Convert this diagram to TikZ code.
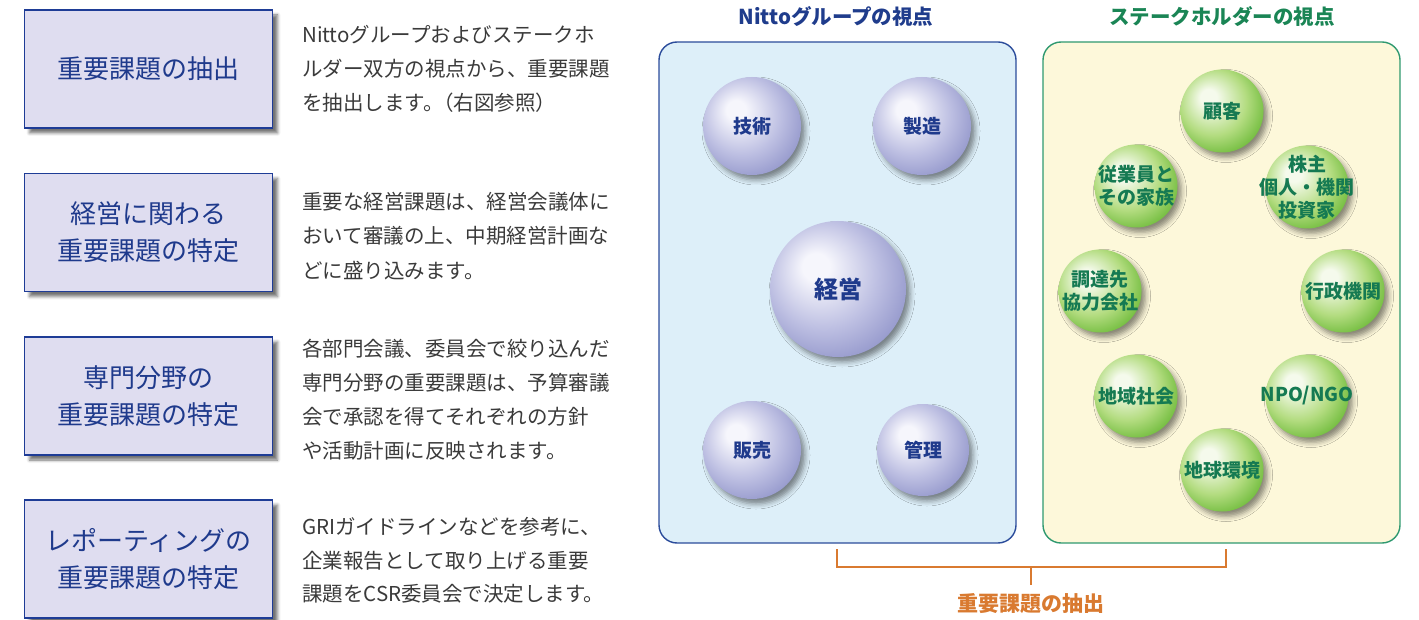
\documentclass[tikz,border=0pt]{standalone}
\usepackage{fontspec}
\setmainfont{Noto Sans CJK JP}
\usetikzlibrary{shadows.blur}
\definecolor{boxfill}{HTML}{DFDDF0}
\definecolor{boxborder}{HTML}{1E3C96}
\definecolor{boxtext}{HTML}{1F3A8C}
\definecolor{desctext}{HTML}{3A3A3A}
\definecolor{bpfill}{HTML}{DDEFF9}
\definecolor{bpborder}{HTML}{2B4C9B}
\definecolor{gpfill}{HTML}{FDF8DA}
\definecolor{gpborder}{HTML}{2F9970}
\definecolor{btitle}{HTML}{1F3C8C}
\definecolor{gtitle}{HTML}{1A8555}
\definecolor{gtext}{HTML}{157A52}
\definecolor{orangec}{HTML}{D97A30}
\definecolor{bsHi}{HTML}{F6F6FC}
\definecolor{bsMid}{HTML}{BDBFE2}
\definecolor{bsDark}{HTML}{8A8EC6}
\definecolor{gsHi}{HTML}{F5FAEC}
\definecolor{gsMid}{HTML}{B3DC80}
\definecolor{gsDark}{HTML}{5EB32A}
\pgfdeclareradialshading{bsph}{\pgfpoint{-9bp}{9bp}}{color(0bp)=(bsHi); color(5bp)=(bsHi); color(20bp)=(bsMid); color(34bp)=(bsDark); color(50bp)=(bsDark)}
\pgfdeclareradialshading{gsph}{\pgfpoint{-9bp}{9bp}}{color(0bp)=(gsHi); color(5bp)=(gsHi); color(20bp)=(gsMid); color(34bp)=(gsDark); color(50bp)=(gsDark)}
\begin{document}
\begin{tikzpicture}[x=1pt,y=-1pt,
  lbox/.style={draw=boxborder, line width=1.8pt, fill=boxfill, minimum width=248pt, minimum height=118pt, inner sep=0pt, align=center, font=\fontsize{26}{37}\selectfont, text=boxtext,
    blur shadow={shadow xshift=5pt, shadow yshift=-5pt, shadow blur radius=3pt, shadow opacity=55}},
  desc/.style={anchor=base west, inner sep=0pt, font=\fontsize{20.5}{34}\selectfont, text=desctext},
  bpanel/.style={draw=bpborder, line width=1.4pt, fill=bpfill, rounded corners=18pt, minimum width=357pt, minimum height=501pt, inner sep=0pt},
  gpanel/.style={draw=gpborder, line width=1.4pt, fill=gpfill, rounded corners=18pt, minimum width=357pt, minimum height=501pt, inner sep=0pt},
  ptitle/.style={font=\fontsize{20.5}{24}\selectfont\bfseries, inner sep=0pt},
  bsphere/.style={circle, shading=bsph, inner sep=0pt, text=boxtext, font=\fontsize{19}{23}\selectfont\bfseries, align=center,
    blur shadow={shadow xshift=4pt, shadow yshift=-5pt, shadow blur radius=5pt, shadow opacity=45}},
  gsphere/.style={circle, shading=gsph, inner sep=0pt, minimum size=83pt,
    blur shadow={shadow xshift=4pt, shadow yshift=-5pt, shadow blur radius=5pt, shadow opacity=45}},
  gtxt/.style={text=gtext, font=\fontsize{19}{23}\selectfont\bfseries, align=center, inner sep=0pt},
  brk/.style={draw=orangec, line width=1.5pt}
]
\useasboundingbox (0,0) rectangle (1419,620);

% left boxes
\node[lbox] (b1) at (148.5,69) {重要課題の抽出};
\node[lbox] (b2) at (148.5,232.5) {経営に関わる\\重要課題の特定};
\node[lbox] (b3) at (148.5,396) {専門分野の\\重要課題の特定};
\node[lbox] (b4) at (148.5,559) {レポーティングの\\重要課題の特定};

% descriptions
\node[desc] (d11) at (302,42.5) {Nittoグループおよびステークホ};
\node[desc] (d12) at (302,76.5) {ルダー双方の視点から、重要課題};
\node[desc] (d13) at (302,110.5) {を抽出します。\kern-0.5em（右図参照）};
\node[desc] (d21) at (302,209.5) {重要な経営課題は、経営会議体に};
\node[desc] (d22) at (302,244) {おいて審議の上、中期経営計画な};
\node[desc] (d23) at (302,278.5) {どに盛り込みます。};
\node[desc] (d31) at (302,356.5) {各部門会議、委員会で絞り込んだ};
\node[desc] (d32) at (302,390.5) {専門分野の重要課題は、予算審議};
\node[desc] (d33) at (302,424.5) {会で承認を得てそれぞれの方針};
\node[desc] (d34) at (302,458.5) {や活動計画に反映されます。};
\node[desc] (d41) at (302,534.5) {GRIガイドラインなどを参考に、};
\node[desc] (d42) at (302,568.5) {企業報告として取り上げる重要};
\node[desc] (d43) at (302,601.5) {課題をCSR委員会で決定します。};

% panels
\node[ptitle, text=btitle] (t1) at (836,17) {Nittoグループの視点};
\node[ptitle, text=gtitle] (t2) at (1222,17) {ステークホルダーの視点};
\node[bpanel] (np) at (837.5,292.5) {};
\node[gpanel] (sp) at (1221.5,292.5) {};

% blue spheres
\node[bsphere, minimum size=98pt] (s1) at (752,126) {技術};
\node[bsphere, minimum size=98pt] (s2) at (922,126) {製造};
\node[bsphere, minimum size=136pt, font=\fontsize{24}{28}\selectfont\bfseries] (s3) at (838,289) {経営};
\node[bsphere, minimum size=98pt] (s4) at (752,450) {販売};
\node[bsphere, minimum size=92pt] (s5) at (923,450) {管理};

% green spheres
\node[gsphere] (g1) at (1222,111) {};
\node[gsphere] (g2) at (1136,186) {};
\node[gsphere] (g3) at (1307,187) {};
\node[gsphere] (g4) at (1100,291) {};
\node[gsphere] (g5) at (1343,291) {};
\node[gsphere] (g6) at (1136,396) {};
\node[gsphere] (g7) at (1307,396) {};
\node[gsphere] (g8) at (1222,470) {};
\node[gtxt] (g1t) at (g1) {顧客};
\node[gtxt] (g2t) at (g2) {従業員と\\その家族};
\node[gtxt] (g3t) at (g3) {株主\\個人・機関\\投資家};
\node[gtxt] (g4t) at (g4) {調達先\\協力会社};
\node[gtxt] (g5t) at (g5) {行政機関};
\node[gtxt] (g6t) at (g6) {地域社会};
\node[gtxt] (g7t) at (g7) {NPO/NGO};
\node[gtxt] (g8t) at (g8) {地球環境};

% bracket
\coordinate (bl) at (837,549);
\coordinate (br) at (1226,549);
\coordinate (bm) at (1031,567);
\coordinate (bt) at (1031,585);
\node[font=\fontsize{21}{24}\selectfont\bfseries, text=orangec, inner sep=0pt] (lab) at (1031,604) {重要課題の抽出};
\draw[brk] (bl) -- (bl|-bm) -- (br|-bm) -- (br);
\draw[brk] (bm) -- (bt);
\end{tikzpicture}
\end{document}
